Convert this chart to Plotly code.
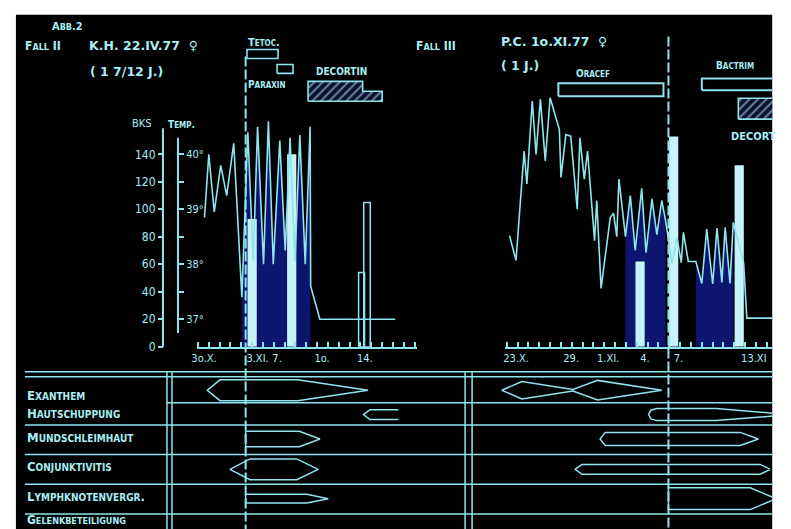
import plotly.graph_objects as go

W, H = 791, 529
LINE = '#8fe4ee'
TEXT = '#a9eef3'
BAR = '#c6f4f6'
NAVY = '#0c1670'
FONT = "DejaVu Sans Condensed, Liberation Sans Narrow, DejaVu Sans, sans-serif"
FONT_WIDE = "DejaVu Sans, Verdana, sans-serif"

# ---------------- data ----------------
# Fall II (K.H.), days counted from 30.X
left_tick_days = [0.55, 5.5, 7.3, 11.45, 15.4]
left_tick_text = ['3o.X.', '3.XI.', '7.', '1o.', '14.']
left_temp_days = [0.6, 1.0, 1.5, 2.1, 2.65, 3.3, 4.05, 4.6, 5.1, 5.5, 6.05, 6.5, 6.95,
                  7.55, 8.05, 8.5, 8.95, 9.4, 9.9, 10.35, 10.4, 11.25, 18.2]
left_temp = [38.85, 40.0, 38.95, 39.8, 39.25, 40.2, 37.4, 40.4, 38.05, 40.5, 38.0, 40.6, 38.0,
             40.25, 38.25, 40.3, 38.05, 40.35, 38.0, 40.5, 37.6, 37.0, 37.0]
left_bar_days = [5.0, 8.65]
left_bar_bks = [93, 140]
left_open_bar_days = [15.1, 15.6]
left_open_bar_bks = [54, 105]
left_start_day = 4.4
left_tetoc = [4.52, 7.39]
left_paraxin = [7.3, 8.77]
left_decortin_days = [10.16, 15.2, 17.0]
left_decortin_dose = [2, 1]

# Fall III (P.C.), days counted from 23.X
right_tick_days = [0.86, 5.94, 9.35, 12.75, 15.85, 22.8]
right_tick_text = ['23.X.', '29.', '1.XI.', '4.', '7.', '13.XI']
right_temp_days = [0.25, 0.85, 1.6, 1.85, 2.35, 2.7, 3.1, 3.55, 4.0, 4.85, 5.0, 5.45, 5.9,
                   6.5, 6.75, 7.15, 7.45, 8.1, 8.3, 8.7, 9.55, 9.85, 10.15, 10.35, 10.95,
                   11.4, 11.85, 12.45, 12.85, 13.4, 13.85, 14.3, 14.65, 15.25, 15.7, 16.1,
                   16.3, 16.75, 17.45, 18.0, 18.45, 19.0, 19.4, 19.85, 20.15, 20.6, 20.9,
                   21.85, 22.15, 24.5]
right_temp = [38.52, 38.07, 40.06, 39.46, 40.97, 40.0, 41.0, 39.88, 41.03, 40.45, 39.58,
              40.36, 40.33, 39.0, 40.3, 39.55, 40.06, 38.43, 39.16, 37.56, 38.85, 38.93,
              38.5, 39.55, 38.5, 39.25, 38.25, 39.38, 38.21, 39.19, 38.54, 39.16, 38.8,
              38.01, 38.49, 38.03, 38.58, 38.05, 38.05, 37.65, 38.64, 37.64, 38.66, 37.67,
              38.67, 37.65, 38.76, 38.04, 37.02, 37.02]
right_bar_days = [12.3, 15.4, 21.45]
right_bar_bks = [62, 153, 132]
right_start_day = 14.92
right_oracef = [4.76, 14.46]
right_bactrim = [18.0, 26.0]
right_decortin_days = [21.37, 26.0]
right_decortin_dose = [2]

bks_ticks = [0, 20, 40, 60, 80, 100, 120, 140]
temp_ticks = [37, 37.5, 38, 38.5, 39, 39.5, 40]
temp_tick_text = ['37°', '', '38°', '', '39°', '', '40°']

symptoms = ['Exanthem', 'Hautschuppung', 'Mundschleimhaut', 'Conjunktivitis',
            'Lymphknotenvergr.', 'Gelenkbeteiligung']
# course of each symptom: days and relative intensity (0..1)
left_course = {
    'Exanthem': ([0.86, 2.03, 9.2, 15.7], [0, 0.95, 0.95, 0]),
    'Hautschuppung': ([15.27, 15.88, 18.5], [0, 0.45, 0.45]),
    'Mundschleimhaut': ([4.4, 4.4, 9.35, 11.27], [0, 0.7, 0.7, 0]),
    'Conjunktivitis': ([2.95, 4.8, 9.11, 11.1], [0, 0.95, 0.95, 0]),
    'Lymphknotenvergr.': ([4.4, 4.4, 10.04, 12.03], [0, 0.4, 0.4, 0]),
    'Gelenkbeteiligung': ([4.4, 4.4, 11.27, 13.5], [0, 0.75, 0.75, 0]),
}
right_course = {
    'Exanthem': ([-0.46, 1.39, 6.1, 8.38, 14.31], [0, 0.8, 0.07, 0.9, 0]),
    'Hautschuppung': ([13.08, 13.3, 13.85, 19.33, 26.2], [0, 0.4, 0.55, 0.55, 0]),
    'Mundschleimhaut': ([8.61, 9.08, 21.54, 23.23], [0, 0.6, 0.6, 0]),
    'Conjunktivitis': ([6.31, 6.93, 23.39, 24.31], [0, 0.45, 0.45, 0]),
    'Lymphknotenvergr.': ([14.92, 14.92, 22.47, 24.85], [0, 1.0, 1.0, 0]),
    'Gelenkbeteiligung': ([7.39, 7.98, 22.47, 24.8], [0, 0.75, 0.75, 0]),
}

# ---------------- layout geometry (reference pixel frame) ----------------
PXD = 10.83      # px per day
L0 = 198.0       # px of day 0, left chart
R0 = 506.7       # px of day 0, right chart
BASE = 346.7     # px of value 0
PXV = 1.381      # px per BKS unit
TOP = 30.0
LANE_HALF = 11.0
lane_center = {'Exanthem': 390.5, 'Hautschuppung': 415, 'Mundschleimhaut': 439.5,
               'Conjunktivitis': 470, 'Lymphknotenvergr.': 499.5, 'Gelenkbeteiligung': 532.5}
lane_label_y = {'Exanthem': 396, 'Hautschuppung': 414, 'Mundschleimhaut': 438,
                'Conjunktivitis': 467, 'Lymphknotenvergr.': 497, 'Gelenkbeteiligung': 521}

# small correction of the capture frame
SC, OX, OY = 0.992, 6.1, -1.8
PY_BOTTOM = OY + SC * H   # reference py at the bottom edge of the page


def fx(px):
    return ((px - OX) / SC) / W


def fy(py):
    return 1 - ((py - OY) / SC) / H


def t_of(v):
    return 37 + (v - 20) / 40.0


v_top = (BASE - TOP) / PXV
temp_rng = [t_of(0), t_of(v_top)]
bks_rng = [0, v_top]
chart_dom = [fy(BASE), fy(TOP)]


def sc(s, small):
    out = ''
    for ch in s:
        if ch.islower():
            out += "<span style='font-size:%dpx'>%s</span>" % (small, ch.upper())
        else:
            out += ch
    return out


fig = go.Figure()

# ---------------- charts ----------------
def chart(xa, ytb, ybks, ytl, days, temp, fills, bar_days, bar_vals):
    for a, b in fills:
        fig.add_trace(go.Scatter(x=days[a:b], y=temp[a:b], mode='lines', fill='tozeroy',
                                 fillcolor=NAVY, line=dict(width=0), xaxis=xa, yaxis=ytb,
                                 hoverinfo='skip'))
    fig.add_trace(go.Bar(x=bar_days, y=bar_vals, width=0.85, marker=dict(color=BAR, line=dict(width=0)),
                         xaxis=xa, yaxis=ybks))
    fig.add_trace(go.Scatter(x=days, y=temp, mode='lines', line=dict(color=LINE, width=1.6),
                             xaxis=xa, yaxis=ytl))


chart('x', 'y', 'y2', 'y3', left_temp_days, left_temp, [(6, 20)], left_bar_days, left_bar_bks)
fig.add_trace(go.Bar(x=left_open_bar_days, y=left_open_bar_bks, width=[0.55, 0.6],
                     marker=dict(color='rgba(0,0,0,0)', line=dict(color=LINE, width=1.5)),
                     xaxis='x', yaxis='y2'))
chart('x2', 'y4', 'y5', 'y6', right_temp_days, right_temp, [(24, 33), (38, 47)],
      right_bar_days, right_bar_bks)

# ---------------- drugs ----------------
def box(xa, d, top, bot, width=1.6):
    fig.add_trace(go.Scatter(x=[d[0], d[1], d[1], d[0], d[0]], y=[bot, bot, top, top, bot],
                             mode='lines', line=dict(color=LINE, width=width), xaxis=xa, yaxis='y7'))


def steps(xa, days, dose, base, unit):
    xs, ys = [days[0]], [base]
    for i, q in enumerate(dose):
        xs += [days[i], days[i + 1]]
        ys += [base - q * unit] * 2
    xs += [days[-1], days[0]]
    ys += [base, base]
    fig.add_trace(go.Scatter(x=xs, y=ys, mode='lines', fill='toself', fillcolor='#0a1030',
                             fillpattern=dict(shape='/', fgcolor='#c6f4f6', bgcolor='#0a1030',
                                              size=6, solidity=0.35),
                             line=dict(color=LINE, width=1.6), xaxis=xa, yaxis='y7'))


box('x', left_tetoc, 48, 57)
box('x', left_paraxin, 63, 72)
steps('x', left_decortin_days, left_decortin_dose, 100, 10)
box('x2', right_oracef, 82, 95, 2)
box('x2', right_bactrim, 77, 89, 2)
steps('x2', right_decortin_days, right_decortin_dose, 118, 10.5)

# ---------------- symptom lanes ----------------
for xa, course in (('x3', left_course), ('x4', right_course)):
    for name in symptoms:
        days, inten = course[name]
        c = lane_center[name]
        xs = days[::-1] + days
        ys = [c - LANE_HALF * v for v in inten[::-1]] + [c + LANE_HALF * v for v in inten]
        fig.add_trace(go.Scatter(x=xs, y=ys, mode='lines', line=dict(color=LINE, width=1.5),
                                 xaxis=xa, yaxis='y8'))

# ---------------- shapes ----------------
shapes = [dict(type='rect', xref='paper', yref='paper', x0=fx(16), x1=fx(772), y0=-0.05, y1=fy(13),
               fillcolor='black', line=dict(width=0), layer='below')]
for py in (372, 377, 425.5, 455, 485, 515):
    shapes.append(dict(type='line', xref='paper', yref='paper', x0=fx(25), x1=fx(772),
                       y0=fy(py), y1=fy(py), line=dict(color=LINE, width=1.5)))
shapes.append(dict(type='line', xref='paper', yref='paper', x0=fx(167), x1=fx(772),
                   y0=fy(403), y1=fy(403), line=dict(color=LINE, width=1.5)))
for px in (167, 172, 465, 472):
    shapes.append(dict(type='line', xref='paper', yref='paper', x0=fx(px), x1=fx(px),
                       y0=fy(372), y1=-0.05, line=dict(color=LINE, width=1.5)))
shapes.append(dict(type='line', xref='x3', yref='paper', x0=left_start_day, x1=left_start_day,
                   y0=fy(55), y1=-0.05, line=dict(color=LINE, width=2, dash='10px,3px')))
shapes.append(dict(type='line', xref='x4', yref='paper', x0=right_start_day, x1=right_start_day,
                   y0=fy(35), y1=-0.05, line=dict(color=LINE, width=2, dash='10px,3px')))
# axis lines of BKS and Temp
shapes.append(dict(type='line', xref='paper', yref='y2', x0=fx(163), x1=fx(163), y0=-1, y1=159,
                   line=dict(color=LINE, width=2)))
shapes.append(dict(type='line', xref='paper', yref='y', x0=fx(178), x1=fx(178), y0=36.75, y1=40.3,
                   line=dict(color=LINE, width=2)))

# ---------------- annotations ----------------
ann = []


def txt(px, py, s, size=12, bold=True, family=FONT):
    ann.append(dict(x=fx(px), y=fy(py), xref='paper', yref='paper', text=s, showarrow=False,
                    xanchor='left', yanchor='middle',
                    font=dict(family=family, size=size, color=TEXT, weight='bold' if bold else 'normal')))


txt(50, 25, sc('Abb.2', 9), 11)
txt(23, 44, sc('Fall II', 9), 12)
txt(87, 44, 'K.H. 22.IV.77  ♀', 12.5, family=FONT_WIDE)
txt(88, 70, '( 1 7/12 J.)', 12.5, family=FONT_WIDE)
txt(246, 41, sc('Tetoc.', 8), 11)
txt(246, 83, sc('Paraxin', 8), 10)
txt(314, 70, 'DECORTIN', 10)
txt(130, 122, 'BKS', 11, False)
txt(166, 123, sc('Temp.', 8), 10)
txt(414, 44, sc('Fall III', 9), 12)
txt(499, 40, 'P.C. 1o.XI.77  ♀', 12.5, family=FONT_WIDE)
txt(499, 64, '( 1 J.)', 12.5, family=FONT_WIDE)
txt(574, 72, sc('Oracef', 8), 10)
txt(714, 64, sc('Bactrim', 8), 10)
txt(729, 135, 'DECORT', 11)
for name in symptoms:
    if name == 'Gelenkbeteiligung':
        txt(25, lane_label_y[name], sc(name, 9), 12)
    else:
        txt(25, lane_label_y[name], sc(name, 10), 13)

tickfont = dict(family=FONT, size=11, color=TEXT)
noax = dict(showgrid=False, zeroline=False)

fig.update_layout(
    width=W, height=H, margin=dict(l=0, r=0, t=0, b=0), autosize=False,
    paper_bgcolor='white', plot_bgcolor='rgba(0,0,0,0)', showlegend=False, barmode='overlay',
    shapes=shapes, annotations=ann,
    xaxis=dict(domain=[fx(197), fx(417)], range=[(197 - L0) / PXD, (417 - L0) / PXD], anchor='y',
               showline=True, linecolor=LINE, linewidth=2, tickmode='array',
               tickvals=left_tick_days, ticktext=left_tick_text, ticks='', tickfont=tickfont,
               minor=dict(tickmode='array', tickvals=list(range(0, 21)), ticks='inside', ticklen=5,
                          tickcolor=LINE, tickwidth=1.5, showgrid=False), **noax),
    yaxis=dict(domain=chart_dom, range=temp_rng, anchor='free', position=fx(178), side='right',
               tickmode='array', tickvals=temp_ticks, ticktext=temp_tick_text, ticks='outside',
               ticklen=5, tickwidth=1.5, tickcolor=LINE, tickfont=dict(family=FONT, size=11, color=TEXT),
               showline=False, **noax),
    yaxis2=dict(overlaying='y', range=bks_rng, anchor='free', position=fx(163), side='left',
                tickmode='array', tickvals=bks_ticks, ticks='outside', ticklen=5, tickwidth=1.5,
                tickcolor=LINE, tickfont=dict(family=FONT, size=12, color=TEXT), showline=False, **noax),
    yaxis3=dict(overlaying='y', range=temp_rng, visible=False, **noax),
    xaxis2=dict(domain=[fx(505), min(1, fx(772))], range=[(505 - R0) / PXD, (772 - R0) / PXD],
                anchor='y4', showline=True, linecolor=LINE, linewidth=2, tickmode='array',
                tickvals=right_tick_days, ticktext=right_tick_text, ticks='', tickfont=tickfont,
                minor=dict(tickmode='array', tickvals=list(range(0, 25)), ticks='inside', ticklen=5,
                           tickcolor=LINE, tickwidth=1.5, showgrid=False), **noax),
    yaxis4=dict(domain=chart_dom, range=temp_rng, anchor='x2', visible=False, **noax),
    yaxis5=dict(overlaying='y4', range=bks_rng, visible=False, **noax),
    yaxis6=dict(overlaying='y4', range=temp_rng, visible=False, **noax),
    yaxis7=dict(domain=[fy(130), fy(28)], range=[130, 28], anchor='x', visible=False, **noax),
    xaxis3=dict(domain=[fx(175), fx(462)], range=[(175 - L0) / PXD, (462 - L0) / PXD], anchor='y8',
                visible=False, **noax),
    xaxis4=dict(domain=[fx(475), min(1, fx(772))], range=[(475 - R0) / PXD, (772 - R0) / PXD],
                anchor='y8', visible=False, **noax),
    yaxis8=dict(domain=[0, fy(378)], range=[PY_BOTTOM, 378], anchor='x3', visible=False, **noax),
)

post = ("document.documentElement.style.overflow='hidden';"
        "document.body.style.margin='0';document.body.style.overflow='hidden';"
        "var g=document.querySelector('.plotly-graph-div');"
        "g.style.position='fixed';g.style.left='0px';g.style.top='0px';")
fig.write_html("out.html", config={'displayModeBar': False}, post_script=post)
